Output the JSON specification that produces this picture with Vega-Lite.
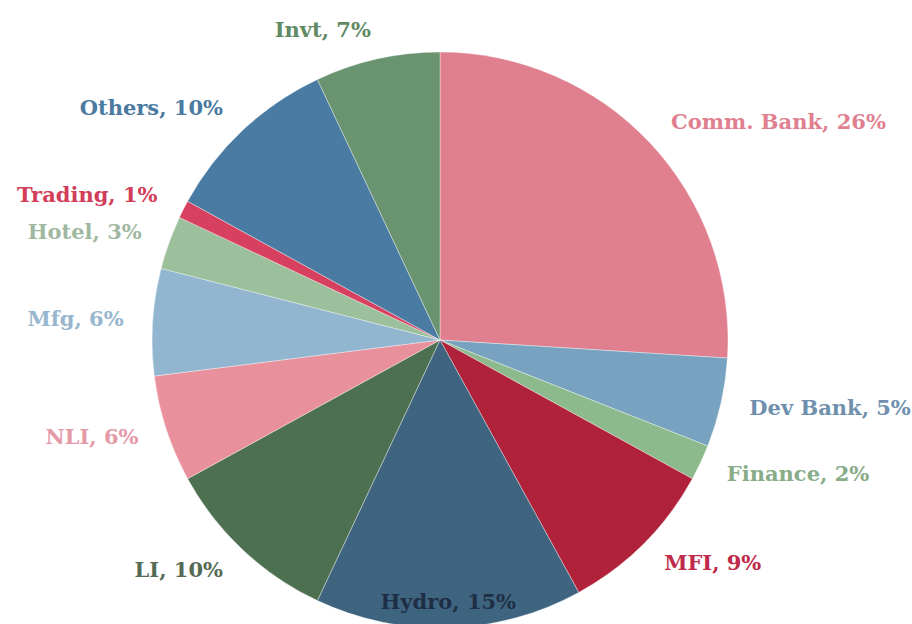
{
  "$schema": "https://vega.github.io/schema/vega-lite/v6.json",
  "width": 912,
  "height": 624,
  "autosize": {"type": "fit", "contains": "padding"},
  "padding": 0,
  "background": "#ffffff",
  "view": {"stroke": null},
  "data": {
    "values": [
      {"i": 1, "sector": "Comm. Bank", "share": 26, "label": "Comm. Bank, 26%"},
      {"i": 2, "sector": "Dev Bank", "share": 5, "label": "Dev Bank, 5%"},
      {"i": 3, "sector": "Finance", "share": 2, "label": "Finance, 2%"},
      {"i": 4, "sector": "MFI", "share": 9, "label": "MFI, 9%"},
      {"i": 5, "sector": "Hydro", "share": 15, "label": "Hydro, 15%"},
      {"i": 6, "sector": "LI", "share": 10, "label": "LI, 10%"},
      {"i": 7, "sector": "NLI", "share": 6, "label": "NLI, 6%"},
      {"i": 8, "sector": "Mfg", "share": 6, "label": "Mfg, 6%"},
      {"i": 9, "sector": "Hotel", "share": 3, "label": "Hotel, 3%"},
      {"i": 10, "sector": "Trading", "share": 1, "label": "Trading, 1%"},
      {"i": 11, "sector": "Others", "share": 10, "label": "Others, 10%"},
      {"i": 12, "sector": "Invt", "share": 7, "label": "Invt, 7%"}
    ]
  },
  "encoding": {
    "theta": {"field": "share", "type": "quantitative", "stack": true},
    "order": {"field": "i", "type": "quantitative"}
  },
  "layer": [
    {
      "mark": {"type": "arc", "x": 440, "y": 340, "radius": 288, "stroke": "#ffffff", "strokeWidth": 0.6, "strokeOpacity": 0.6},
      "encoding": {
        "color": {
          "field": "sector", "type": "nominal", "legend": null,
          "scale": {
            "domain": ["Comm. Bank", "Dev Bank", "Finance", "MFI", "Hydro", "LI", "NLI", "Mfg", "Hotel", "Trading", "Others", "Invt"],
            "range": ["#e0808f", "#77a3c0", "#8cba8c", "#b0223a", "#3e6480", "#4d7050", "#e8909c", "#93b6d0", "#9cbf9c", "#d84060", "#4a7ba3", "#6a9470"]
          }
        }
      }
    },
    {
      "mark": {"type": "text", "x": 440, "y": 340, "radius": 317, "align": "left", "baseline": "middle", "font": "DejaVu Serif", "fontWeight": "bold", "fontSize": 21},
      "encoding": {
        "text": {"field": "label", "type": "nominal"},
        "opacity": {"condition": {"test": "indexof(['Comm. Bank','Dev Bank','Finance','MFI'], datum.sector) >= 0", "value": 1}, "value": 0},
        "color": {
          "field": "sector", "type": "nominal", "legend": null,
          "scale": {
            "domain": ["Comm. Bank", "Dev Bank", "Finance", "MFI", "Hydro", "LI", "NLI", "Mfg", "Hotel", "Trading", "Others", "Invt"],
            "range": ["#e07f90", "#6f90ad", "#88ab88", "#c02a4a", "#1e2f45", "#556b55", "#e59aa8", "#98b6ce", "#a0b8a0", "#d23d5a", "#4a7aa0", "#5f8a64"]
          }
        }
      }
    },
    {
      "mark": {"type": "text", "x": 440, "y": 340, "radius": 317, "align": "right", "baseline": "middle", "font": "DejaVu Serif", "fontWeight": "bold", "fontSize": 21},
      "encoding": {
        "text": {"field": "label", "type": "nominal"},
        "opacity": {"condition": {"test": "indexof(['LI','NLI','Mfg','Hotel','Trading','Others','Invt'], datum.sector) >= 0", "value": 1}, "value": 0},
        "color": {
          "field": "sector", "type": "nominal", "legend": null,
          "scale": {
            "domain": ["Comm. Bank", "Dev Bank", "Finance", "MFI", "Hydro", "LI", "NLI", "Mfg", "Hotel", "Trading", "Others", "Invt"],
            "range": ["#e07f90", "#6f90ad", "#88ab88", "#c02a4a", "#1e2f45", "#556b55", "#e59aa8", "#98b6ce", "#a0b8a0", "#d23d5a", "#4a7aa0", "#5f8a64"]
          }
        }
      }
    },
    {
      "mark": {"type": "text", "x": 440, "y": 340, "radius": 263, "align": "center", "baseline": "middle", "font": "DejaVu Serif", "fontWeight": "bold", "fontSize": 21},
      "encoding": {
        "text": {"field": "label", "type": "nominal"},
        "opacity": {"condition": {"test": "datum.sector === 'Hydro'", "value": 1}, "value": 0},
        "color": {
          "field": "sector", "type": "nominal", "legend": null,
          "scale": {
            "domain": ["Comm. Bank", "Dev Bank", "Finance", "MFI", "Hydro", "LI", "NLI", "Mfg", "Hotel", "Trading", "Others", "Invt"],
            "range": ["#e07f90", "#6f90ad", "#88ab88", "#c02a4a", "#1e2f45", "#556b55", "#e59aa8", "#98b6ce", "#a0b8a0", "#d23d5a", "#4a7aa0", "#5f8a64"]
          }
        }
      }
    }
  ],
  "resolve": {"scale": {"color": "independent"}}
}
